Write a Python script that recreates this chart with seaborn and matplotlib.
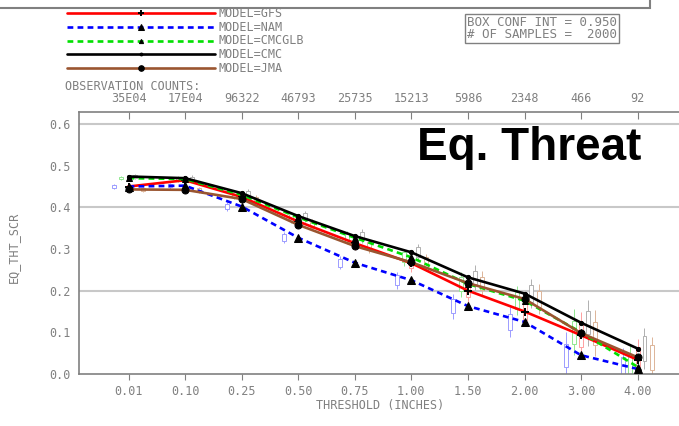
import numpy as np
import pandas as pd
import matplotlib
matplotlib.use("Agg")
import matplotlib.pyplot as plt
from matplotlib.lines import Line2D
from matplotlib.patches import Rectangle
import seaborn as sns

# Data
thresholds = ['0.01', '0.10', '0.25', '0.50', '0.75', '1.00', '1.50', '2.00', '3.00', '4.00']
obs_counts = ['35E04', '17E04', '96322', '46793', '25735', '15213', '5986', '2348', '466', '92']

gfs = [0.450, 0.465, 0.425, 0.366, 0.314, 0.266, 0.200, 0.150, 0.093, 0.034]
nam = [0.450, 0.452, 0.402, 0.327, 0.267, 0.225, 0.163, 0.125, 0.045, 0.012]
cmcglb = [0.470, 0.468, 0.430, 0.376, 0.327, 0.280, 0.216, 0.176, 0.100, 0.017]
cmc = [0.474, 0.470, 0.434, 0.379, 0.331, 0.292, 0.232, 0.193, 0.123, 0.061]
jma = [0.443, 0.442, 0.420, 0.358, 0.307, 0.268, 0.218, 0.180, 0.098, 0.040]

# bootstrap CI half widths (box and whisker) per threshold
box_half = [0.003, 0.004, 0.006, 0.008, 0.010, 0.012, 0.016, 0.020, 0.028, 0.030]
whisker_half = [0.005, 0.007, 0.010, 0.013, 0.016, 0.020, 0.030, 0.035, 0.055, 0.050]

models = ['GFS', 'NAM', 'CMCGLB', 'CMC', 'JMA']
values = [gfs, nam, cmcglb, cmc, jma]

df = pd.DataFrame({
    'x': np.tile(np.arange(len(thresholds)), len(models)),
    'score': np.concatenate(values),
    'model': np.repeat(models, len(thresholds)),
})

# styles
line_colors = {'GFS': '#ff0000', 'NAM': '#0000ff', 'CMCGLB': '#00e000', 'CMC': '#000000', 'JMA': '#9a5530'}
box_colors = {'GFS': '#ffa0a0', 'NAM': '#9c9cff', 'CMCGLB': '#90e890', 'CMC': '#b0b0b0', 'JMA': '#dcb498'}
line_styles = {'GFS': '-', 'NAM': (0, (2.2, 1.6)), 'CMCGLB': (0, (2.2, 1.6)), 'CMC': '-', 'JMA': '-'}
markers = {'GFS': '+', 'NAM': '^', 'CMCGLB': '^', 'CMC': 'o', 'JMA': 'o'}
marker_sizes = {'GFS': 6, 'NAM': 6, 'CMCGLB': 4, 'CMC': 3, 'JMA': 5}
box_offsets = {'GFS': 0.0, 'NAM': -0.26, 'CMCGLB': -0.13, 'CMC': 0.12, 'JMA': 0.25}

grey = '#808080'
mono = 'DejaVu Sans Mono'

sns.set_style('white')
plt.rcParams['font.family'] = ['DejaVu Sans']

fig = plt.figure(figsize=(6.79, 4.26), dpi=100)
ax = fig.add_axes([79 / 679, 1 - 374 / 426, 600 / 679, 262 / 426])

# grid lines
for g in [0.2, 0.4, 0.6]:
    ax.axhline(g, color='#c8c8c8', lw=1.5, zorder=0)

# confidence boxes
for m, vals in zip(models, values):
    xs = np.arange(len(thresholds)) + box_offsets[m]
    v = np.array(vals)
    ax.vlines(xs, v - np.array(whisker_half), v + np.array(whisker_half),
              color=box_colors[m], lw=0.7, zorder=1)
    ax.bar(xs, 2 * np.array(box_half), bottom=v - np.array(box_half), width=0.07,
           facecolor='white', edgecolor=box_colors[m], lw=0.7, zorder=1.5)

# model lines
for i, m in enumerate(models):
    sub = df[df['model'] == m]
    sns.lineplot(data=sub, x='x', y='score', ax=ax, color=line_colors[m],
                 linestyle=line_styles[m], lw=1.9, marker=markers[m],
                 markersize=marker_sizes[m], markerfacecolor='black',
                 markeredgecolor='black', markeredgewidth=1.4 if m == 'GFS' else 0.75,
                 legend=False, zorder=3 + i)

ax.set_xlim(-0.875, 9.73)
ax.set_ylim(0, 0.6288)
ax.set_xticks(range(len(thresholds)))
ax.set_xticklabels(thresholds)
ax.set_yticks(np.arange(0, 0.61, 0.1))
ax.set_yticklabels([f'{t:.1f}' for t in np.arange(0, 0.61, 0.1)])

for side in ['left', 'bottom', 'top']:
    ax.spines[side].set_color(grey)
    ax.spines[side].set_linewidth(1.2)
ax.spines['right'].set_visible(False)

ax.tick_params(axis='both', colors=grey, labelcolor=grey, labelsize=8.5,
               direction='out', width=0.8)
ax.tick_params(axis='y', length=5, pad=1)
ax.tick_params(axis='x', length=4, pad=4)
for lab in ax.get_xticklabels() + ax.get_yticklabels():
    lab.set_family(mono)

ax.set_xlabel('THRESHOLD (INCHES)', color=grey, fontsize=8.5, family=mono)
ax.set_ylabel('EQ_THT_SCR', color=grey, fontsize=8.5, family=mono)
ax.xaxis.set_label_coords((380 - 79) / 600, -(399 - 374) / 262)
ax.yaxis.set_label_coords((20 - 79) / 600, (374 - 247) / 262)

# top axis with observation counts
ax2 = ax.twiny()
ax2.set_xlim(ax.get_xlim())
ax2.set_xticks(range(len(obs_counts)))
ax2.set_xticklabels(obs_counts, family=mono)
ax2.tick_params(axis='x', colors=grey, labelcolor=grey, labelsize=8.5,
                direction='in', length=5, width=0.8, pad=5)
for s in ax2.spines.values():
    s.set_visible(False)

# title-like label
fig.text(529 / 679, 1 - 148 / 426, 'Eq. Threat', ha='center', va='center',
         fontsize=33, fontweight='bold', family='Liberation Sans', color='black')

# legend
handles = [Line2D([0], [0], color=line_colors[m], linestyle=line_styles[m], lw=1.9,
                  marker=markers[m], markersize=marker_sizes[m] - 1,
                  markeredgewidth=1.4 if m == 'GFS' else 0.75,
                  markerfacecolor='black', markeredgecolor='black') for m in models]
leg = fig.legend(handles, [f'MODEL={m}' for m in models], loc='upper left',
                 bbox_to_anchor=(67 / 679, 1 - 7 / 426), frameon=False,
                 prop={'family': mono, 'size': 8.5}, handlelength=12.5,
                 handletextpad=0.3, labelspacing=0.06, borderpad=0,
                 borderaxespad=0, numpoints=1, handleheight=0.5)
for t in leg.get_texts():
    t.set_color(grey)

fig.text(65 / 679, 1 - 87 / 426, 'OBSERVATION COUNTS:', ha='left', va='center',
         fontsize=8.5, family=mono, color=grey)

fig.text(467 / 679, 1 - 28.5 / 426, 'BOX CONF INT = 0.950\n# OF SAMPLES =  2000',
         ha='left', va='center', fontsize=9, family=mono, color=grey,
         linespacing=0.95,
         bbox=dict(boxstyle='square,pad=0.15', facecolor='white', edgecolor=grey, lw=1.0))

# frame of the panel above
fig.patches.append(Rectangle((-0.01, 1 - 8 / 426), 650 / 679 + 0.01, 0.1,
                             transform=fig.transFigure, fill=False,
                             edgecolor=grey, lw=1.5))

fig.savefig('out.png', dpi=100)
